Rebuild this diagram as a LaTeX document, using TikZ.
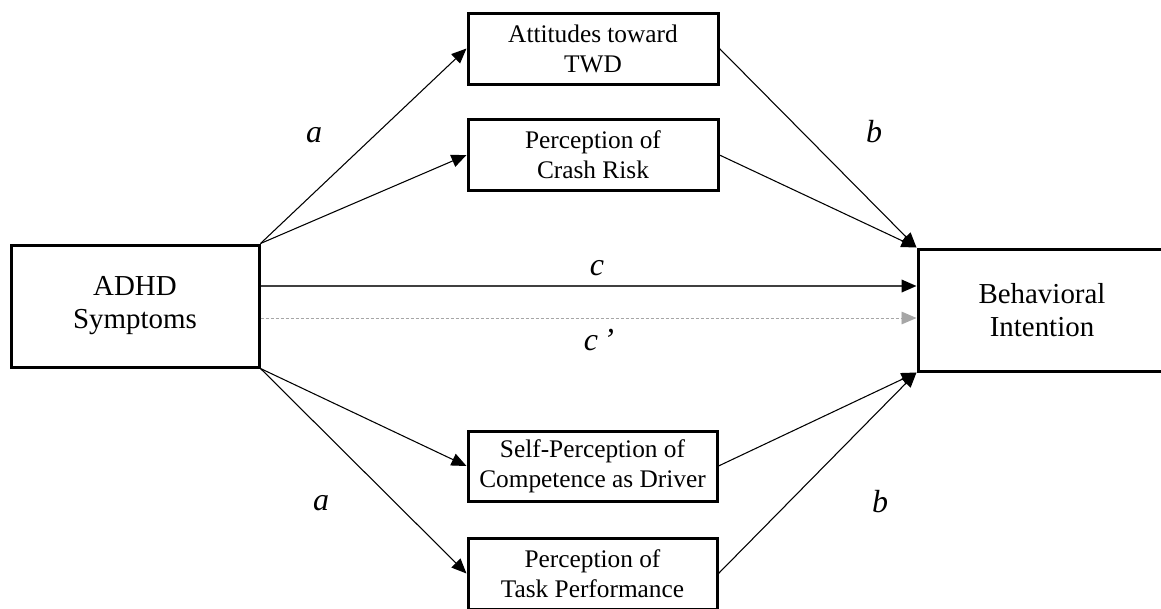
\documentclass[tikz,border=0pt]{standalone}
\usepackage{fontspec}
\setmainfont{Liberation Serif}
\usetikzlibrary{arrows.meta}
\begin{document}
\begin{tikzpicture}[x=0.75pt,y=-0.75pt,
  box/.style={draw, line width=2.25pt, inner sep=0pt, align=center},
  bigbox/.style={box, minimum width=186pt, minimum height=91.5pt, font=\fontsize{21.7}{24.75}\selectfont},
  medbox/.style={box, minimum width=187.5pt, minimum height=53.25pt, font=\fontsize{19}{22.5}\selectfont},
  arr/.style={line width=0.8pt, -{Triangle[length=11.25pt, width=9.5pt]}},
  carr/.style={line width=1.3pt, black!75, -{Triangle[length=11.25pt, width=9.5pt, color=black, fill=black]}},
  cparr/.style={line width=0.7pt, black!35, dash pattern=on 2.25pt off 1.5pt, -{Triangle[length=11.25pt, width=9.5pt, color=black!35, fill=black!35]}},
  lab/.style={font=\fontsize{24}{28}\selectfont\itshape}]
\useasboundingbox (0,0) rectangle (1161,608);
\node[bigbox] (adhd) at (135,306) {ADHD\\Symptoms};
\node[bigbox] (beh) at (1042,310) {Behavioral\\Intention};
\node[medbox] (att) at (593,48.5) {Attitudes toward\\TWD};
\node[medbox] (crash) at (593,155) {Perception of\\Crash Risk};
\node[medbox, minimum width=186.75pt, minimum height=52.5pt] (self) at (592.5,466) {Self-Perception of\\Competence as Driver};
\node[medbox, minimum width=186.75pt] (task) at (592.5,573.5) {Perception of\\Task Performance};
\coordinate (cy) at (0,286);
\coordinate (cpy) at (0,318);
\draw[arr] (adhd.north east) -- (att.west);
\draw[arr] (adhd.north east) -- (crash.west);
\draw[arr] (adhd.south east) -- (self.west);
\draw[arr] (adhd.south east) -- (task.west);
\draw[arr] (att.east) -- (beh.north west);
\draw[arr] (crash.east) -- (beh.north west);
\draw[arr] (self.east) -- (beh.south west);
\draw[arr] (task.east) -- (beh.south west);
\draw[carr] (adhd.east |- cy) -- (beh.west |- cy);
\draw[cparr] (adhd.east |- cpy) -- (beh.west |- cpy);
\node[lab] (la1) at (314,135) {a};
\node[lab] (lb1) at (874,132) {b};
\node[lab] (lc) at (597,268) {c};
\node[lab] (lcp) at (599,340) {c\,’};
\node[lab] (la2) at (321,503) {a};
\node[lab] (lb2) at (880,502) {b};
\end{tikzpicture}
\end{document}
